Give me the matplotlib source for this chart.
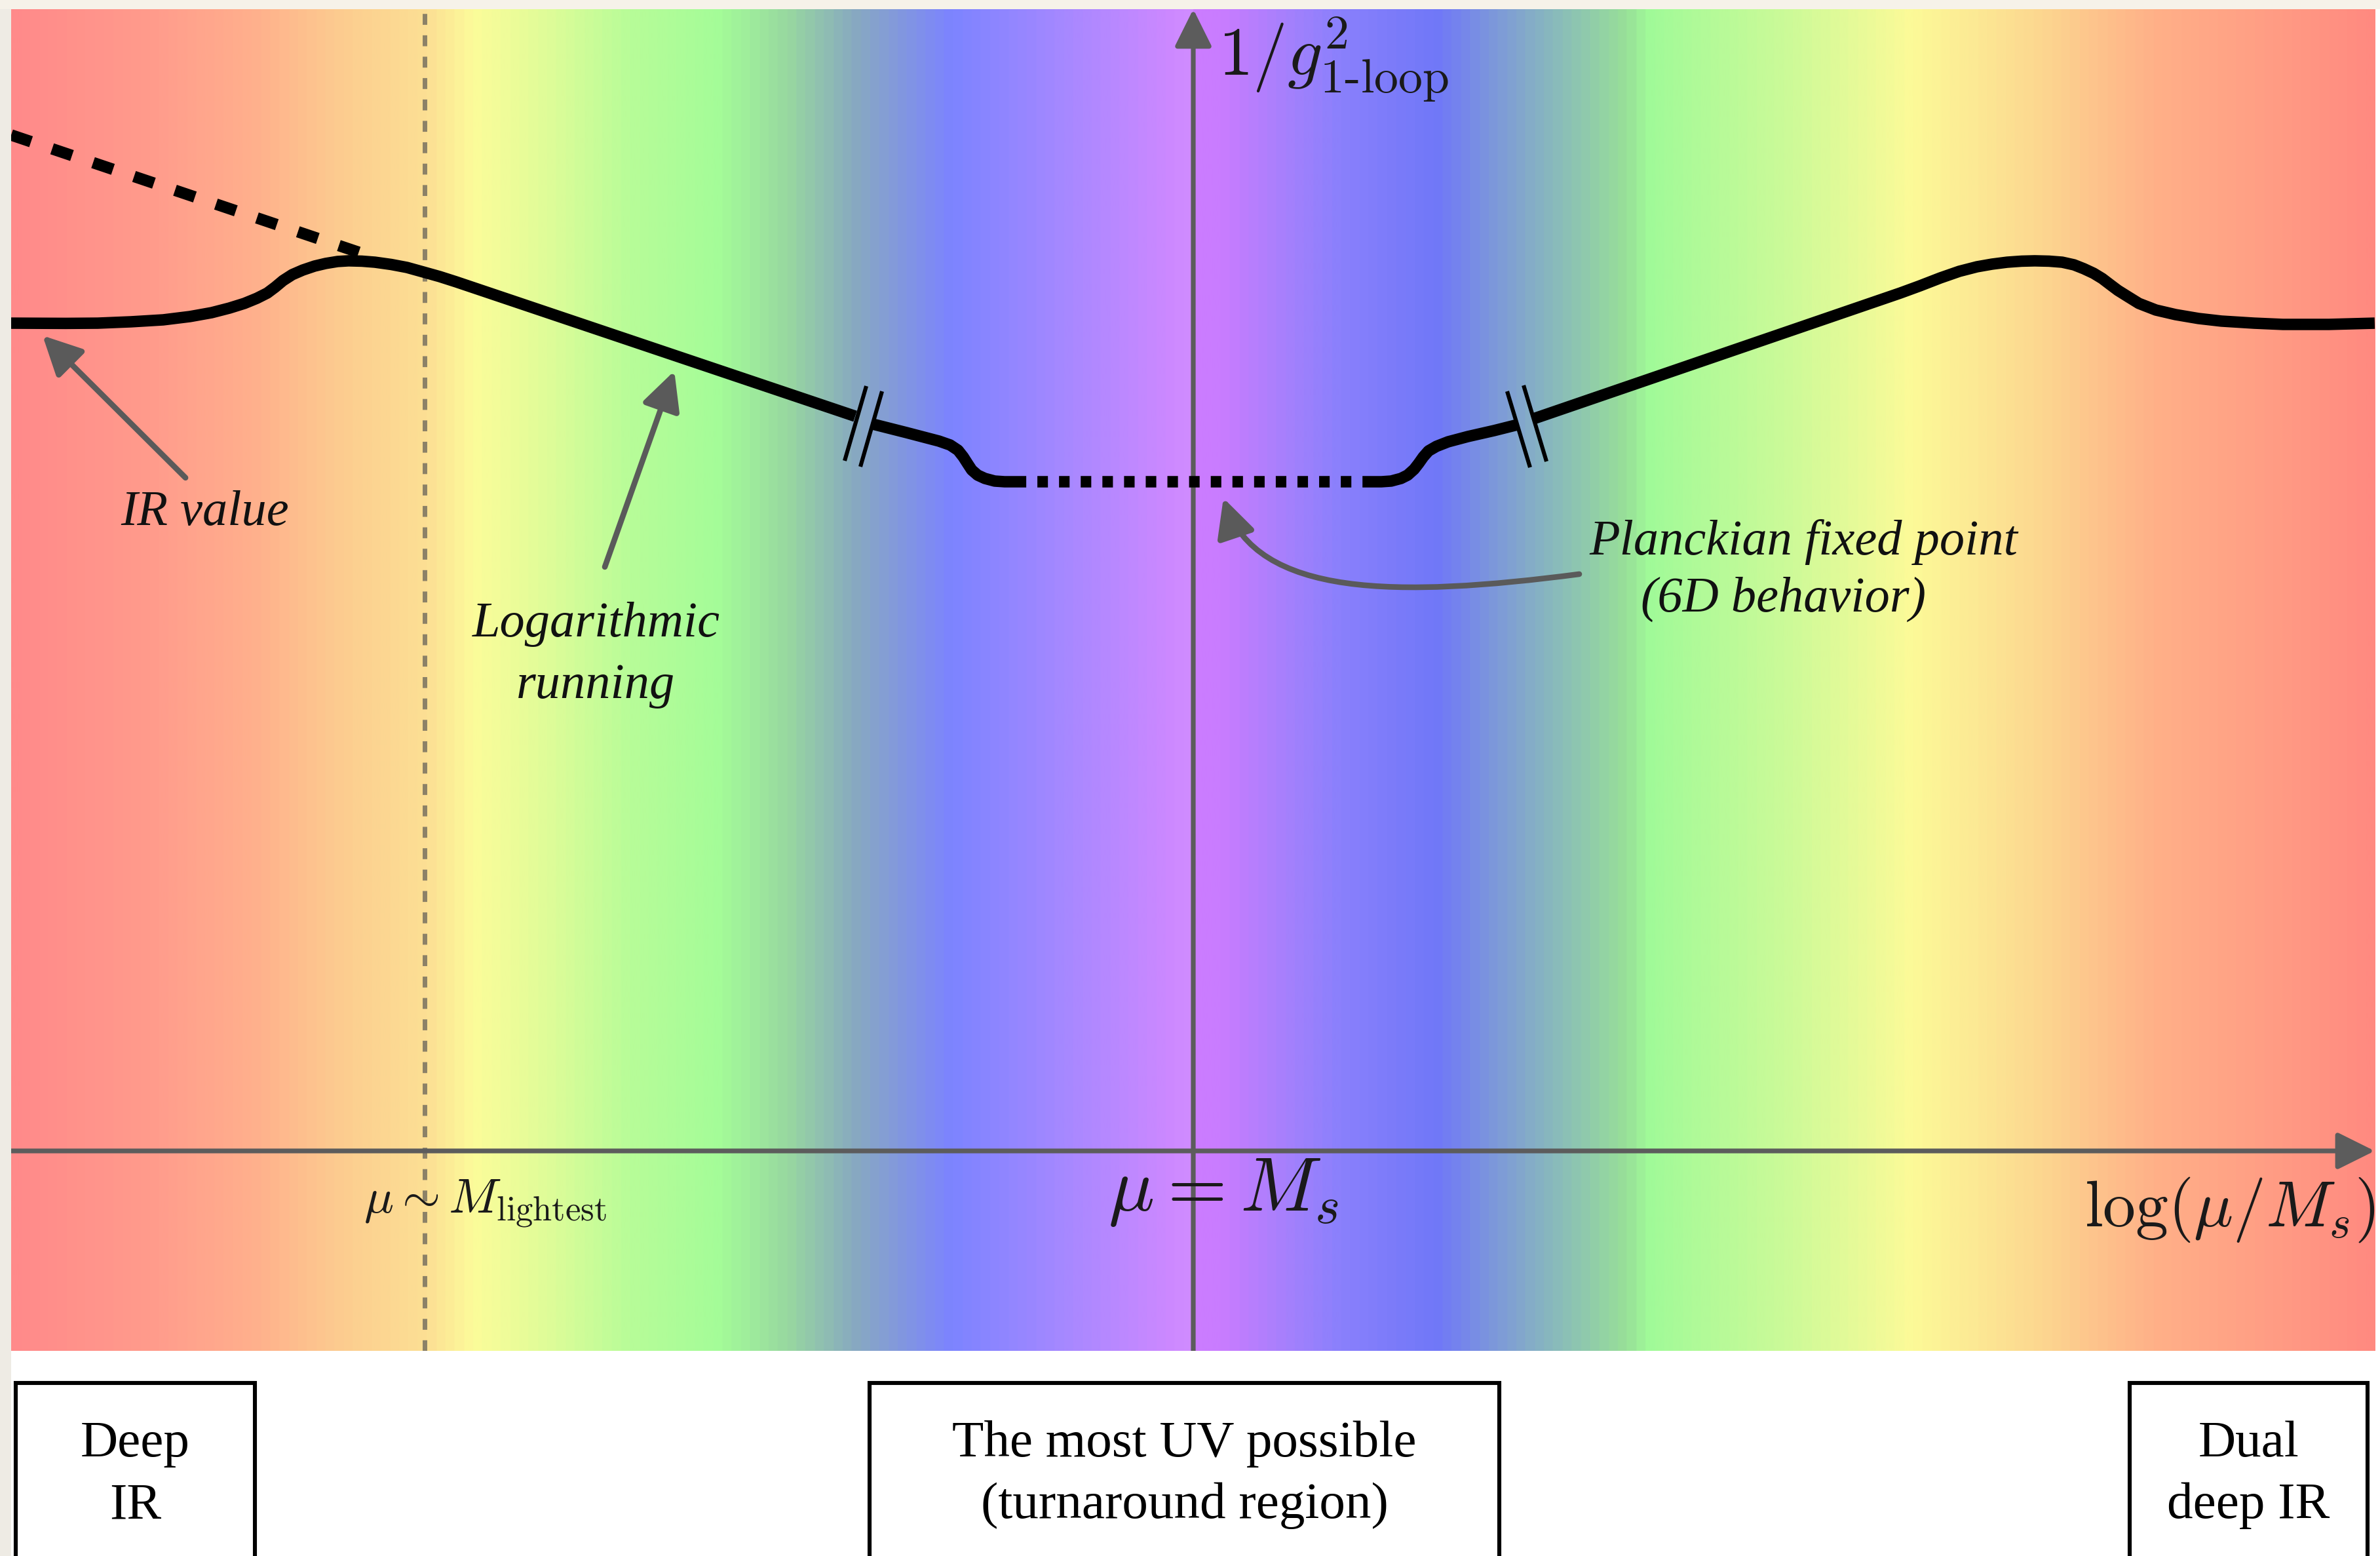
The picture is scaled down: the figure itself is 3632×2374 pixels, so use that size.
import numpy as np
import matplotlib
matplotlib.use("Agg")
import matplotlib.pyplot as plt
from matplotlib.colors import LinearSegmentedColormap
from matplotlib.patches import Rectangle, FancyArrowPatch
from matplotlib.path import Path
from matplotlib.lines import Line2D

plt.rcParams["mathtext.fontset"] = "cm"
plt.rcParams["font.family"] = ["Liberation Serif", "DejaVu Serif"]

# ---------------- data ----------------
# x : log(mu/M_s) in arbitrary units (0 at mu = M_s);  y : 1/g^2_1-loop in arbitrary units
x_range = [-10.0, 10.0]
y_range = [-1.751, 10.0]

# IR plateau + bump + logarithmic running (left)
ir_x = [-10.000, -9.540, -9.268, -8.986, -8.714, -8.487, -8.304, -8.154, -8.027, -7.921,
        -7.833, -7.766, -7.700, -7.622, -7.533, -7.433, -7.339, -7.239, -7.145, -7.034,
        -6.923, -6.785, -6.652, -6.513, -6.375, -6.236, -2.860]
ir_y = [7.250, 7.248, 7.250, 7.262, 7.279, 7.308, 7.342, 7.382, 7.423, 7.468,
        7.514, 7.566, 7.623, 7.675, 7.715, 7.750, 7.773, 7.790, 7.796, 7.793,
        7.784, 7.764, 7.738, 7.698, 7.658, 7.612, 6.435]

# approach to the turnaround (left, after the break)
inner_left_x = [-2.711, -2.428, -2.151, -2.057, -1.990, -1.946, -1.907, -1.874, -1.824,
                -1.763, -1.680, -1.596, -1.502]
inner_left_y = [6.366, 6.292, 6.217, 6.183, 6.137, 6.079, 6.016, 5.964, 5.919,
                5.890, 5.867, 5.861, 5.861]

# Planckian fixed point (6D behaviour)
plateau_x = [-1.502, 1.502]
plateau_y = [5.861, 5.861]

# leaving the turnaround (right, before the break)
inner_right_x = [1.502, 1.591, 1.674, 1.757, 1.813, 1.868, 1.907, 1.946, 1.990, 2.057,
                 2.156, 2.323, 2.544, 2.744]
inner_right_y = [5.861, 5.861, 5.867, 5.890, 5.919, 5.970, 6.022, 6.079, 6.131, 6.171,
                 6.211, 6.257, 6.309, 6.361]

# dual logarithmic running + bump + dual IR plateau (right)
dual_x = [2.877, 5.981, 6.147, 6.319, 6.480, 6.630, 6.757, 6.885, 7.007, 7.118, 7.239,
          7.350, 7.450, 7.533, 7.616, 7.689, 7.755, 7.822, 7.910, 7.999, 8.143, 8.309,
          8.503, 8.697, 8.975, 9.218, 9.606, 9.994]
dual_y = [6.412, 7.514, 7.577, 7.646, 7.704, 7.744, 7.767, 7.784, 7.793, 7.796, 7.793,
          7.784, 7.761, 7.727, 7.687, 7.641, 7.589, 7.537, 7.480, 7.423, 7.365, 7.325,
          7.291, 7.268, 7.250, 7.239, 7.239, 7.250]

# naive extrapolation of the logarithmic running into the IR
naive_x = [-10.0, -7.057]
naive_y = [8.898, 7.870]

mu_lightest_x = -6.502

# background colour bands along x
band_x = [-10.0, -8.819, -7.971, -7.123, -6.491, -6.109, -5.427, -4.795, -4.030, -3.442,
          -2.888, -2.062, -1.142, -0.227, -0.039, 0.011, 0.261, 0.754, 1.247, 2.073,
          2.860, 3.681, 3.875, 5.139, 6.098, 7.162, 8.176, 9.185, 10.0]
band_colors = ["#ff8a8a", "#ff9c8c", "#ffb08c", "#fcd090", "#fce094", "#fcfc9a", "#dcfc98",
               "#b8fc98", "#a4fc98", "#98d8a0", "#88aac0", "#7c84ff", "#a488ff", "#cc88ff",
               "#d08cff", "#cc7cff", "#c87cff", "#a880fc", "#8a80fc", "#7078f8", "#84acc8",
               "#98e098", "#a0fa98", "#d0fa98", "#fcfa98", "#fcd890", "#ffb088", "#ff9c84",
               "#ff8a80"]

region_lines = [["Deep", "IR"], ["The most UV possible", "(turnaround region)"], ["Dual", "deep IR"]]
region_left = [-9.961, -2.738, 7.921]
region_right = [-7.938, 2.589, 9.933]

# ---------------- figure ----------------
W, H, DPI = 3632, 2374, 200
fig = plt.figure(figsize=(W / DPI, H / DPI), dpi=DPI, facecolor="white")

# paper margins
fig.add_artist(Rectangle((0, 0), 17 / W, 1, transform=fig.transFigure,
                         facecolor="#eeebe4", edgecolor="none", zorder=0))
fig.add_artist(Rectangle((0, 1 - 14 / H), 1, 14 / H, transform=fig.transFigure,
                         facecolor="#f6f2e9", edgecolor="none", zorder=0))

ax = fig.add_axes([17 / W, 1 - 2061 / H, (3625 - 17) / W, (2061 - 14) / H])
ax.set_xlim(*x_range)
ax.set_ylim(*y_range)
ax.axis("off")

# gradient background
pos = [(b - band_x[0]) / (band_x[-1] - band_x[0]) for b in band_x]
cmap = LinearSegmentedColormap.from_list("bands", list(zip(pos, band_colors)))
xs = np.linspace(0, 1, 2400)
rgb = cmap(xs)[np.newaxis, :, :3]
ax.imshow(rgb, extent=(x_range[0], x_range[1], y_range[0], y_range[1]),
          aspect="auto", interpolation="bilinear", zorder=0)

axis_col = "#5c5c5c"
arrow_col = "#5a5a5a"

# mu ~ M_lightest dashed line
ax.plot([mu_lightest_x, mu_lightest_x], y_range, color="#505050", alpha=0.65, lw=2.5,
        dashes=(2.4, 2.3), solid_capstyle="butt", dash_capstyle="butt", zorder=1)

# axes arrows
ax.add_patch(FancyArrowPatch((x_range[0], 0), (9.994, 0),
                             arrowstyle="-|>,head_length=17.5,head_width=8.7",
                             mutation_scale=1, lw=2.6, color=axis_col,
                             shrinkA=0, shrinkB=0, zorder=2))
ax.add_patch(FancyArrowPatch((0, y_range[0]), (0, y_range[1]),
                             arrowstyle="-|>,head_length=17.5,head_width=8.7",
                             mutation_scale=1, lw=2.6, color=axis_col,
                             shrinkA=0, shrinkB=0, zorder=2))

# coupling curve
clw = 6.3
kw = dict(color="black", lw=clw, solid_joinstyle="round", zorder=3)
ax.plot(ir_x, ir_y, solid_capstyle="butt", **kw)
ax.plot(inner_left_x, inner_left_y, solid_capstyle="butt", **kw)
ax.plot(inner_right_x, inner_right_y, solid_capstyle="butt", **kw)
ax.plot(dual_x, dual_y, solid_capstyle="butt", **kw)
ax.plot(plateau_x, plateau_y, color="black", lw=clw, dashes=(0.92, 0.97),
        dash_capstyle="butt", zorder=3)
ax.plot(naive_x, naive_y, color="black", lw=clw, dashes=(1.83, 1.94),
        dash_capstyle="butt", zorder=3)

# break marks  //
for (xa, ya, xb, yb) in [(-2.766, 6.699, -2.949, 6.045), (-2.633, 6.653, -2.816, 5.993),
                         (2.655, 6.653, 2.849, 5.987), (2.794, 6.705, 2.988, 6.039)]:
    ax.add_line(Line2D([xa, xb], [ya, yb], color="black", lw=2.2,
                       solid_capstyle="butt", zorder=4))

# annotation arrows
astyle = "-|>,head_length=18,head_width=9"
ax.add_patch(FancyArrowPatch((-8.525, 5.896), (-9.734, 7.141), arrowstyle=astyle,
                             mutation_scale=1, lw=3.1, color=arrow_col,
                             shrinkA=0, shrinkB=0, zorder=4))
ax.add_patch(FancyArrowPatch((-4.978, 5.115), (-4.390, 6.831), arrowstyle=astyle,
                             mutation_scale=1, lw=3.1, color=arrow_col,
                             shrinkA=0, shrinkB=0, zorder=4))
planck_path = Path([(3.265, 5.052), (1.729, 4.845), (0.538, 4.845), (0.255, 5.718)],
                   [Path.MOVETO, Path.CURVE4, Path.CURVE4, Path.CURVE4])
ax.add_patch(FancyArrowPatch(path=planck_path, arrowstyle=astyle, mutation_scale=1,
                             lw=3.1, color=arrow_col, zorder=4))

# italic annotations
tcol = "#111111"
ifont = dict(family=["Liberation Serif", "DejaVu Serif"], style="italic",
             fontsize=27.5, color=tcol, ha="center", va="baseline", zorder=5)
ax.text(-8.359, 5.482, "IR value", **ifont)
ax.text(-5.050, 4.506, "Logarithmic", **ifont)
ax.text(-5.055, 3.967, "running", **ifont)
ax.text(5.161, 5.224, "Planckian fixed point", **ifont)
ax.text(4.994, 4.725, "(6D behavior)", **ifont)

# math labels
mcol = "#1a1a1a"
ylab = ax.text(0.211, 9.420, r"$1/g^{2}_{\mathrm{1\text{-}loop}}$", fontsize=38,
               color=mcol, ha="left", va="baseline", zorder=5)
ax.text(0.255, -0.522, r"$\mu = M_s$", fontsize=42, color=mcol,
        ha="center", va="baseline", zorder=5)
ax.text(10.0, -0.660, r"$\log(\mu/M_s)$", fontsize=36, color=mcol,
        ha="right", va="baseline", zorder=5)
ax.text(-5.992, -0.540, r"$\mu\sim M_{\mathrm{lightest}}$", fontsize=27, color=mcol,
        ha="center", va="baseline", zorder=5)

# region boxes below the plot
box_bottom = -4.3
for lines, xl, xr in zip(region_lines, region_left, region_right):
    top = -2.035
    ax.add_patch(Rectangle((xl, box_bottom), xr - xl, top - box_bottom, facecolor="white",
                           edgecolor="black", lw=2.2, clip_on=False, zorder=2))
    xc = 0.5 * (xl + xr)
    ax.text(xc, -2.675, lines[0], fontsize=28.5, color="black", ha="center",
            va="baseline", zorder=5)
    ax.text(xc, -3.215, lines[1], fontsize=28.5, color="black", ha="center",
            va="baseline", zorder=5)

try:
    fig.canvas.draw()
except Exception:
    ylab.set_text(r"$1/g^{2}_{\mathrm{1{-}loop}}$")

fig.savefig("out.png", dpi=DPI, facecolor="white")
